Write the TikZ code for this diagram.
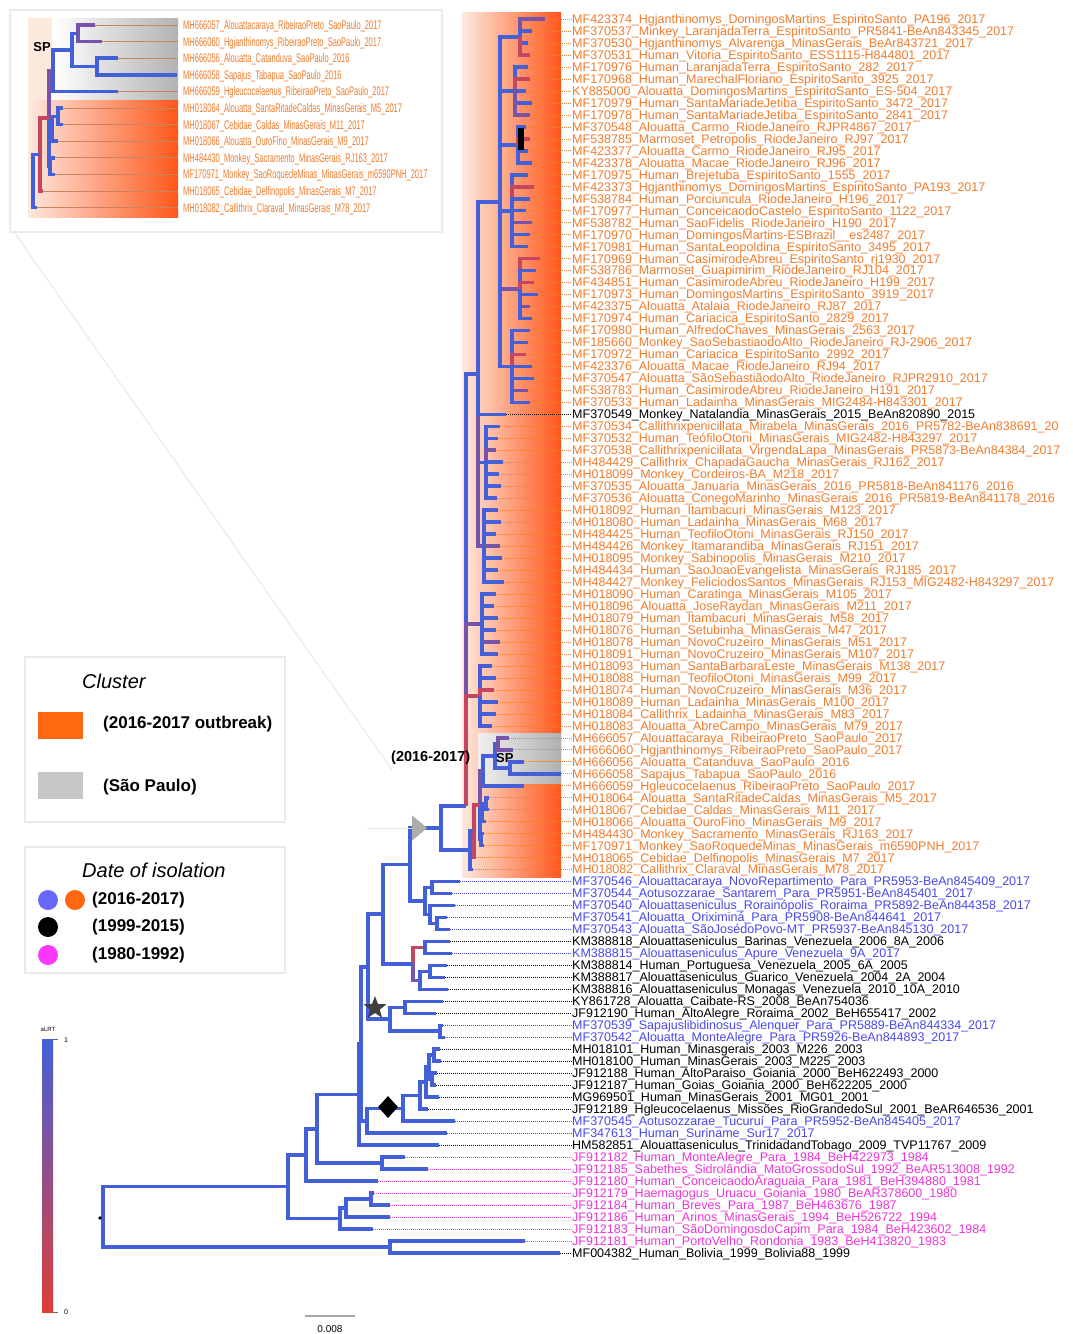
\documentclass[tikz,border=0pt]{standalone}
\usepackage{fontspec}
\setmainfont{Liberation Sans}
\usetikzlibrary{shapes.geometric}
\definecolor{tb}{RGB}{68,96,216}
\definecolor{tp}{RGB}{118,84,170}
\definecolor{tr}{RGB}{196,70,96}
\definecolor{lo}{RGB}{242,124,44}
\definecolor{lb}{RGB}{72,72,236}
\definecolor{lm}{RGB}{238,52,214}
\definecolor{mg}{RGB}{250,55,250}
\definecolor{cb}{RGB}{104,104,250}
\definecolor{oa}{RGB}{253,232,222}
\definecolor{ob}{RGB}{255,86,26}
\definecolor{lgo}{RGB}{255,104,16}
\definecolor{bro}{RGB}{205,130,95}
\definecolor{cbr}{RGB}{222,62,56}
\tikzset{
  br/.style={line width=3.6pt, draw=tb},
  lab/.style={anchor=base west, inner sep=0pt, font=\fontsize{12.5}{14}\selectfont},
  lead/.style={line width=0.6pt, dash pattern=on 1pt off 1pt},
  ilab/.style={anchor=base west, inner sep=0pt, font=\fontsize{12.5}{13}\selectfont, text=lo},
  legt/.style={anchor=west, inner sep=0pt, font=\fontsize{17}{19}\selectfont\bfseries},
  legh/.style={anchor=west, inner sep=0pt, font=\fontsize{20}{22}\selectfont\itshape},
  box/.style={draw=black!8, line width=1.2pt},
}
\begin{document}
\begin{tikzpicture}[x=1pt,y=-1pt]
\useasboundingbox (0,0) rectangle (1073,1334);
\fill[white] (0,0) rectangle (1073,1334);

% ---------- cluster shading ----------
\shade[left color=oa, right color=ob] (462,12) rectangle (561,877);
\shade[left color=gray!12, right color=gray!62] (478,733) rectangle (561,783);

% ---------- inset ----------
\draw[box] (10,10) rectangle (442,232);
\fill[oa] (28,18) rectangle (52,100);
\shade[left color=white, right color=gray!60] (52,18) rectangle (178,100);
\shade[left color=oa, right color=ob] (28,100) rectangle (178,217);
\node[font=\fontsize{13}{14}\selectfont\bfseries, inner sep=0pt] (isp) at (42,47) {SP};
\foreach \i/\tx/\t in {
1/95/MH666057\_Alouattacaraya\_RibeiraoPreto\_SaoPaulo\_2017,
2/102/MH666060\_Hgjanthinomys\_RibeiraoPreto\_SaoPaulo\_2017,
3/118/MH666056\_Alouatta\_Catanduva\_SaoPaulo\_2016,
4/177/MH666058\_Sapajus\_Tabapua\_SaoPaulo\_2016,
5/118/MH666059\_Hgleucocelaenus\_RibeiraoPreto\_SaoPaulo\_2017,
6/63/MH018064\_Alouatta\_SantaRitadeCaldas\_MinasGerais\_M5\_2017,
7/63/MH018067\_Cebidae\_Caldas\_MinasGerais\_M11\_2017,
8/58/MH018066\_Alouatta\_OuroFino\_MinasGerais\_M9\_2017,
9/55/MH484430\_Monkey\_Sacramento\_MinasGerais\_RJ163\_2017,
10/55/MF170971\_Monkey\_SaoRoquedeMinas\_MinasGerais\_m6590PNH\_2017,
11/43/MH018065\_Cebidae\_Delfinopolis\_MinasGerais\_M7\_2017,
12/37/MH018082\_Callithrix\_Claraval\_MinasGerais\_M78\_2017}{
  \pgfmathsetmacro\yy{25+(\i-1)*16.6}
  \coordinate (IT\i) at (\tx,\yy);
  \coordinate (IE\i) at (178,\yy);
  \draw[bro, line width=0.8pt] (IT\i) -- (IE\i);
  \node[ilab] (IL\i) at (183,{\yy+4.4}) {\scalebox{0.6}[1]{\t}};
}
\foreach \px/\py/\cx/\cy/\c in {
78/33.3/95/25/tp, 78/33.3/102/41.6/tp,
97/66.5/118/58.2/tb, 97/66.5/177/74.8/tb,
72/49.9/78/33.3/tb, 72/49.9/97/66.5/tb,
53/70.6/72/49.9/tb, 53/70.6/118/91.4/tb,
58/116.3/63/108/tb, 58/116.3/63/124.6/tb,
52/128.8/58/116.3/tb, 52/128.8/58/141.2/tb,
50/166.1/55/157.8/tb, 50/166.1/55/174.4/tb,
49/118/53/70.6/tp, 49/118/52/128.8/tb, 49/118/50/166.1/tb,
40/154.5/49/118/tr, 40/154.5/43/191/tr,
33/181/40/154.5/tb, 33/181/37/207.6/tb}{
  \draw[br, draw=\c] (\px,\py) |- (\cx,\cy);
}

% faint guide lines from inset
\coordinate (g1) at (14,232);
\coordinate (g2) at (392,770);
\draw[black!10, line width=0.8pt] (g1) -- (g2);

% ---------- tip labels ----------
\foreach \n/\tx/\c/\t in {
1/545/lo/MF423374\_Hgjanthinomys\_DomingosMartins\_EspiritoSanto\_PA196\_2017,
2/532/lo/MF370537\_Minkey\_LaranjadaTerra\_EspiritoSanto\_PR5841-BeAn843345\_2017,
3/528/lo/MF370530\_Hgjanthinomys\_Alvarenga\_MinasGerais\_BeAr843721\_2017,
4/530/lo/MF370531\_Human\_Vitoria\_EspiritoSanto\_ESS1115-H844801\_2017,
5/528/lo/MF170976\_Human\_LaranjadaTerra\_EspiritoSanto\_282\_2017,
6/530/lo/MF170968\_Human\_MarechalFloriano\_EspiritoSanto\_3925\_2017,
7/526/lo/KY885000\_Alouatta\_DomingosMartins\_EspiritoSanto\_ES-504\_2017,
8/532/lo/MF170979\_Human\_SantaMariadeJetiba\_EspiritoSanto\_3472\_2017,
9/530/lo/MF170978\_Human\_SantaMariadeJetiba\_EspiritoSanto\_2841\_2017,
10/526/lo/MF370548\_Alouatta\_Carmo\_RiodeJaneiro\_RJPR4867\_2017,
11/530/lo/MF538785\_Marmoset\_Petropolis\_RiodeJaneiro\_RJ97\_2017,
12/528/lo/MF423377\_Alouatta\_Carmo\_RiodeJaneiro\_RJ95\_2017,
13/532/lo/MF423378\_Alouatta\_Macae\_RiodeJaneiro\_RJ96\_2017,
14/528/lo/MF170975\_Human\_Brejetuba\_EspiritoSanto\_1555\_2017,
15/534/lo/MF423373\_Hgjanthinomys\_DomingosMartins\_EspiritoSanto\_PA193\_2017,
16/530/lo/MF538784\_Human\_Porciuncula\_RiodeJaneiro\_H196\_2017,
17/526/lo/MF170977\_Human\_ConceicaodoCastelo\_EspiritoSanto\_1122\_2017,
18/532/lo/MF538782\_Human\_SaoFidelis\_RiodeJaneiro\_H190\_2017,
19/530/lo/MF170970\_Human\_DomingosMartins-ESBrazil\_\_es2487\_2017,
20/528/lo/MF170981\_Human\_SantaLeopoldina\_EspiritoSanto\_3495\_2017,
21/540/lo/MF170969\_Human\_CasimirodeAbreu\_EspiritoSanto\_rj1930\_2017,
22/536/lo/MF538786\_Marmoset\_Guapimirim\_RiodeJaneiro\_RJ104\_2017,
23/534/lo/MF434851\_Human\_CasimirodeAbreu\_RiodeJaneiro\_H199\_2017,
24/538/lo/MF170973\_Human\_DomingosMartins\_EspiritoSanto\_3919\_2017,
25/530/lo/MF423375\_Alouatta\_Atalaia\_RiodeJaneiro\_RJ87\_2017,
26/532/lo/MF170974\_Human\_Cariacica\_EspiritoSanto\_2829\_2017,
27/530/lo/MF170980\_Human\_AlfredoChaves\_MinasGerais\_2563\_2017,
28/528/lo/MF185660\_Monkey\_SaoSebastiaodoAlto\_RiodeJaneiro\_RJ-2906\_2017,
29/526/lo/MF170972\_Human\_Cariacica\_EspiritoSanto\_2992\_2017,
30/532/lo/MF423376\_Alouatta\_Macae\_RiodeJaneiro\_RJ94\_2017,
31/534/lo/MF370547\_Alouatta\_SãoSebastiãodoAlto\_RiodeJaneiro\_RJPR2910\_2017,
32/528/lo/MF538783\_Human\_CasimirodeAbreu\_RiodeJaneiro\_H191\_2017,
33/530/lo/MF370533\_Human\_Ladainha\_MinasGerais\_MIG2484-H843301\_2017,
34/506/black/MF370549\_Monkey\_Natalandia\_MinasGerais\_2015\_BeAn820890\_2015,
35/500/lo/MF370534\_Callithrixpenicillata\_Mirabela\_MinasGerais\_2016\_PR5782-BeAn838691\_20,
36/498/lo/MF370532\_Human\_TeófiloOtoni\_MinasGerais\_MIG2482-H843297\_2017,
37/496/lo/MF370538\_Callithrixpenicillata\_VirgendaLapa\_MinasGerais\_PR5873-BeAn84384\_2017,
38/503/lo/MH484429\_Callithrix\_ChapadaGaucha\_MinasGerais\_RJ162\_2017,
39/499/lo/MH018099\_Monkey\_Cordeiros-BA\_M218\_2017,
40/501/lo/MF370535\_Alouatta\_Januaria\_MinasGerais\_2016\_PR5818-BeAn841176\_2016,
41/497/lo/MF370536\_Alouatta\_ConegoMarinho\_MinasGerais\_2016\_PR5819-BeAn841178\_2016,
42/498/lo/MH018092\_Human\_Itambacuri\_MinasGerais\_M123\_2017,
43/501/lo/MH018080\_Human\_Ladainha\_MinasGerais\_M68\_2017,
44/496/lo/MH484425\_Human\_TeofiloOtoni\_MinasGerais\_RJ150\_2017,
45/500/lo/MH484426\_Monkey\_Itamarandiba\_MinasGerais\_RJ151\_2017,
46/502/lo/MH018095\_Monkey\_Sabinopolis\_MinasGerais\_M210\_2017,
47/498/lo/MH484434\_Human\_SaoJoaoEvangelista\_MinasGerais\_RJ185\_2017,
48/504/lo/MH484427\_Monkey\_FeliciodosSantos\_MinasGerais\_RJ153\_MIG2482-H843297\_2017,
49/496/lo/MH018090\_Human\_Caratinga\_MinasGerais\_M105\_2017,
50/494/lo/MH018096\_Alouatta\_JoseRaydan\_MinasGerais\_M211\_2017,
51/498/lo/MH018079\_Human\_Itambacuri\_MinasGerais\_M58\_2017,
52/496/lo/MH018076\_Human\_Setubinha\_MinasGerais\_M47\_2017,
53/500/lo/MH018078\_Human\_NovoCruzeiro\_MinasGerais\_M51\_2017,
54/498/lo/MH018091\_Human\_NovoCruzeiro\_MinasGerais\_M107\_2017,
55/492/lo/MH018093\_Human\_SantaBarbaraLeste\_MinasGerais\_M138\_2017,
56/496/lo/MH018088\_Human\_TeofiloOtoni\_MinasGerais\_M99\_2017,
57/494/lo/MH018074\_Human\_NovoCruzeiro\_MinasGerais\_M36\_2017,
58/498/lo/MH018089\_Human\_Ladainha\_MinasGerais\_M100\_2017,
59/496/lo/MH018084\_Callithrix\_Ladainha\_MinasGerais\_M83\_2017,
60/492/lo/MH018083\_Alouatta\_AbreCampo\_MinasGerais\_M79\_2017,
61/509/lo/MH666057\_Alouattacaraya\_RibeiraoPreto\_SaoPaulo\_2017,
62/513/lo/MH666060\_Hgjanthinomys\_RibeiraoPreto\_SaoPaulo\_2017,
63/524/lo/MH666056\_Alouatta\_Catanduva\_SaoPaulo\_2016,
64/561/lo/MH666058\_Sapajus\_Tabapua\_SaoPaulo\_2016,
65/524/lo/MH666059\_Hgleucocelaenus\_RibeiraoPreto\_SaoPaulo\_2017,
66/489/lo/MH018064\_Alouatta\_SantaRitadeCaldas\_MinasGerais\_M5\_2017,
67/489/lo/MH018067\_Cebidae\_Caldas\_MinasGerais\_M11\_2017,
68/486/lo/MH018066\_Alouatta\_OuroFino\_MinasGerais\_M9\_2017,
69/484/lo/MH484430\_Monkey\_Sacramento\_MinasGerais\_RJ163\_2017,
70/484/lo/MF170971\_Monkey\_SaoRoquedeMinas\_MinasGerais\_m6590PNH\_2017,
71/476/lo/MH018065\_Cebidae\_Delfinopolis\_MinasGerais\_M7\_2017,
72/473/lo/MH018082\_Callithrix\_Claraval\_MinasGerais\_M78\_2017,
73/460/lb/MF370546\_Alouattacaraya\_NovoRepartimento\_Para\_PR5953-BeAn845409\_2017,
74/452/lb/MF370544\_Aotusozzarae\_Santarem\_Para\_PR5951-BeAn845401\_2017,
75/455/lb/MF370540\_Alouattaseniculus\_Rorainópolis\_Roraima\_PR5892-BeAn844358\_2017,
76/447/lb/MF370541\_Alouatta\_Oriximiná\_Para\_PR5908-BeAn844641\_2017,
77/450/lb/MF370543\_Alouatta\_SãoJosédoPovo-MT\_PR5937-BeAn845130\_2017,
78/450/black/KM388818\_Alouattaseniculus\_Barinas\_Venezuela\_2006\_8A\_2006,
79/452/lb/KM388815\_Alouattaseniculus\_Apure\_Venezuela\_9A\_2017,
80/447/black/KM388814\_Human\_Portuguesa\_Venezuela\_2005\_6A\_2005,
81/445/black/KM388817\_Alouattaseniculus\_Guarico\_Venezuela\_2004\_2A\_2004,
82/448/black/KM388816\_Alouattaseniculus\_Monagas\_Venezuela\_2010\_10A\_2010,
83/443/black/KY861728\_Alouatta\_Caibate-RS\_2008\_BeAn754036,
84/436/black/JF912190\_Human\_AltoAlegre\_Roraima\_2002\_BeH655417\_2002,
85/443/lb/MF370539\_Sapajuslibidinosus\_Alenquer\_Para\_PR5889-BeAn844334\_2017,
86/445/lb/MF370542\_Alouatta\_MonteAlegre\_Para\_PR5926-BeAn844893\_2017,
87/440/black/MH018101\_Human\_Minasgerais\_2003\_M226\_2003,
88/441/black/MH018100\_Human\_MinasGerais\_2003\_M225\_2003,
89/437/black/JF912188\_Human\_AltoParaiso\_Goiania\_2000\_BeH622493\_2000,
90/436/black/JF912187\_Human\_Goias\_Goiania\_2000\_BeH622205\_2000,
91/439/black/MG969501\_Human\_MinasGerais\_2001\_MG01\_2001,
92/428/black/JF912189\_Hgleucocelaenus\_Missões\_RioGrandedoSul\_2001\_BeAR646536\_2001,
93/455/lb/MF370545\_Aotusozzarae\_Tucuruí\_Para\_PR5952-BeAn845405\_2017,
94/447/lb/MF347613\_Human\_Suriname\_Sur17\_2017,
95/439/black/HM582851\_Alouattaseniculus\_TrinidadandTobago\_2009\_TVP11767\_2009,
96/405/lm/JF912182\_Human\_MonteAlegre\_Para\_1984\_BeH422973\_1984,
97/428/lm/JF912185\_Sabethes\_Sidrolândia\_MatoGrossodoSul\_1992\_BeAR513008\_1992,
98/378/lm/JF912180\_Human\_ConceicaodoAraguaia\_Para\_1981\_BeH394880\_1981,
99/374/lm/JF912179\_Haemagogus\_Uruacu\_Goiania\_1980\_BeAR378600\_1980,
100/390/lm/JF912184\_Human\_Breves\_Para\_1987\_BeH463676\_1987,
101/390/lm/JF912186\_Human\_Arinos\_MinasGerais\_1994\_BeH526722\_1994,
102/373/lm/JF912183\_Human\_SãoDomingosdoCapim\_Para\_1984\_BeH423602\_1984,
103/525/lm/JF912181\_Human\_PortoVelho\_Rondonia\_1983\_BeH413820\_1983,
104/560/black/MF004382\_Human\_Bolivia\_1999\_Bolivia88\_1999}{
  \pgfmathsetmacro\yy{19+(\n-1)*11.98}
  \coordinate (T\n) at (\tx,\yy);
  \node[lab,text=\c] (L\n) at (572,{\yy+4.4}) {\t};
  \draw[lead,draw=\c] (T\n) -- (T\n -| L\n.west);
}

% ---------- tree: internal edges ----------
\foreach \px/\py/\cx/\cy/\c in {
500/201.7/520/37/tb, 500/201.7/515/91/tb, 500/201.7/518/145/tb,
500/201.7/512/211/tb, 500/201.7/520/288.8/tp, 500/201.7/512/366.5/tb,
478/373.9/500/201.7/tb, 478/373.9/486/462.3/tb, 478/373.9/484/546.1/tp,
466/806/478/373.9/tb, 466/806/482/624/tp, 466/806/480/695.9/tr,
495/755.7/498/743.8/tb, 495/755.7/510/767.7/tb,
483/770.7/495/755.7/tb,
480/805/483/770.7/tp, 480/805/482/812.6/tb, 480/805/481/839.5/tb,
482/812.6/486/803.6/tb,
474/831/480/805/tr,
470/850/474/831/tb,
441/828/466/806/tb, 441/828/470/850/tb,
425/901/432/887.5/tb, 425/901/430/914.4/tb,
430/914.4/437/923.4/tb,
410/864.5/441/828/tb, 410/864.5/425/901/tb,
420/980.3/430/971.3/tb,
413/963.9/425/947.4/tr, 413/963.9/420/980.3/tp,
383/914.2/410/864.5/tb, 383/914.2/413/963.9/tb,
390/1019.2/405/1007.3/tb, 390/1019.2/440/1031.2/tb,
368/966.7/383/914.2/tb, 368/966.7/390/1019.2/tb,
429/1067.2/434/1055.2/tb, 429/1067.2/432/1079.1/tb,
426/1082.2/429/1067.2/tb,
420/1095.6/426/1082.2/tb,
403/1108.3/420/1095.6/tb,
367/1120.7/403/1108.3/tb,
361/1043.7/368/966.7/tb, 361/1043.7/367/1120.7/tb,
359/1094.4/361/1043.7/tb,
317/1128.7/359/1094.4/tb, 317/1128.7/382/1163/tb,
306/1154.8/317/1128.7/tb,
346/1207.9/371/1198.9/tb,
340/1218.4/346/1207.9/tb,
288/1186.6/306/1154.8/tb, 288/1186.6/340/1218.4/tb,
103/1216.7/288/1186.6/tb, 103/1216.7/390/1246.8/tb}{
  \draw[br, draw=\c] (\px,\py) |- (\cx,\cy);
}
% ---------- tree: terminal edges ----------
\foreach \px/\py/\n/\c in {
520/37/1/tp, 520/37/2/tb, 520/37/3/tb, 520/37/4/tr,
515/91/5/tb, 515/91/6/tr, 515/91/7/tb, 515/91/8/tb, 515/91/9/tp,
518/145/10/tb, 518/145/11/tr, 518/145/12/tb, 518/145/13/tb,
512/211/14/tb, 512/211/15/tr, 512/211/16/tb, 512/211/17/tb, 512/211/18/tp, 512/211/19/tb, 512/211/20/tb,
520/288.8/21/tr, 520/288.8/22/tb, 520/288.8/23/tr, 520/288.8/24/tb, 520/288.8/25/tp, 520/288.8/26/tb,
512/366.5/27/tb, 512/366.5/28/tb, 512/366.5/29/tr, 512/366.5/30/tb, 512/366.5/31/tb, 512/366.5/32/tp, 512/366.5/33/tb,
478/373.9/34/tb,
486/462.3/35/tb, 486/462.3/36/tb, 486/462.3/37/tp, 486/462.3/38/tb, 486/462.3/39/tb, 486/462.3/40/tb, 486/462.3/41/tb,
484/546.1/42/tb, 484/546.1/43/tb, 484/546.1/44/tb, 484/546.1/45/tp, 484/546.1/46/tb, 484/546.1/47/tb, 484/546.1/48/tb,
482/624/49/tb, 482/624/50/tb, 482/624/51/tb, 482/624/52/tb, 482/624/53/tp, 482/624/54/tb,
480/695.9/55/tb, 480/695.9/56/tb, 480/695.9/57/tr, 480/695.9/58/tb, 480/695.9/59/tb, 480/695.9/60/tb,
498/743.8/61/tp, 498/743.8/62/tp, 510/767.7/63/tb, 510/767.7/64/tb, 483/770.7/65/tb,
486/803.6/66/tb, 486/803.6/67/tb, 482/812.6/68/tb, 481/839.5/69/tb, 481/839.5/70/tb,
474/831/71/tr, 470/850/72/tb,
432/887.5/73/tb, 432/887.5/74/tb, 430/914.4/75/tb, 437/923.4/76/tb, 437/923.4/77/tb,
425/947.4/78/tb, 425/947.4/79/tb, 430/971.3/80/tb, 430/971.3/81/tb, 420/980.3/82/tb,
405/1007.3/83/tb, 405/1007.3/84/tb, 440/1031.2/85/tb, 440/1031.2/86/tb,
434/1055.2/87/tb, 434/1055.2/88/tb, 432/1079.1/89/tb, 432/1079.1/90/tb,
426/1082.2/91/tb, 420/1095.6/92/tb, 403/1108.3/93/tb, 367/1120.7/94/tb, 359/1094.4/95/tb,
382/1163/96/tb, 382/1163/97/tb, 306/1154.8/98/tb,
371/1198.9/99/tb, 371/1198.9/100/tb, 346/1207.9/101/tb, 340/1218.4/102/tb,
390/1246.8/103/tb, 390/1246.8/104/tb}{
  \draw[br, draw=\c] (\px,\py) |- (T\n);
}

% markers
\fill[black] (100,1218) circle (1.8pt);
\node[fill=black, inner sep=0pt, minimum width=6pt, minimum height=22pt] (blk) at (521,139) {};
\node[star, star points=5, star point ratio=2.4, fill=black!75, inner sep=0pt, minimum size=24pt] (strm) at (375,1008) {};
\node[diamond, fill=black, inner sep=0pt, minimum width=20pt, minimum height=22pt] (dia) at (388,1107) {};
\node[isosceles triangle, isosceles triangle apex angle=80, fill=gray!65, inner sep=0pt, minimum height=15pt, minimum width=22pt] (tri) at (418,828) {};
\coordinate (g3) at (367,828);
\draw[black!10, line width=0.8pt] (g3) -- (tri.west);
\node[anchor=west, inner sep=0pt, font=\fontsize{14.5}{16}\selectfont\bfseries] (lab1617) at (391,758) {(2016-2017)};
\node[anchor=west, inner sep=0pt, font=\fontsize{13}{14}\selectfont\bfseries] (msp) at (496,758) {SP};

% ---------- legends ----------
\draw[box] (25,657) rectangle (285,822);
\node[legh] (lcl) at (82,681) {Cluster};
\node[fill=lgo, minimum width=45pt, minimum height=27pt, inner sep=0pt] (lorg) at (60.5,725) {};
\node[legt] (lorgt) at (103,724) {(2016-2017 outbreak)};
\node[fill=gray!45, minimum width=45pt, minimum height=27pt, inner sep=0pt] (lgry) at (60.5,785) {};
\node[legt] (lgryt) at (103,787) {(São Paulo)};

\draw[box] (25,847) rectangle (285,973);
\node[legh] (ldt) at (82,870) {Date of isolation};
\node[circle, fill=cb, minimum size=20pt, inner sep=0pt] (c1) at (48,900) {};
\node[circle, fill=lgo, minimum size=20pt, inner sep=0pt] (c2) at (75,900) {};
\node[legt] (c12t) at (92,900) {(2016-2017)};
\node[circle, fill=black, minimum size=20pt, inner sep=0pt] (c3) at (48,927) {};
\node[legt] (c3t) at (92,927) {(1999-2015)};
\node[circle, fill=mg, minimum size=20pt, inner sep=0pt] (c4) at (48,955) {};
\node[legt] (c4t) at (92,955) {(1980-1992)};

% ---------- colour bar ----------
\shade[top color=tb, bottom color=cbr] (42,1039) rectangle (53,1312);
\draw[black!60, line width=0.6pt] (53,1039) -- (58,1039) (53,1312) -- (58,1312);
\node[font=\fontsize{6}{7}\selectfont, inner sep=0pt] (alrt) at (48,1029) {aLRT};
\node[font=\fontsize{7}{8}\selectfont, inner sep=0pt] (c1l) at (66,1040) {1};
\node[font=\fontsize{7}{8}\selectfont, inner sep=0pt] (c0l) at (66,1312) {0};

% ---------- scale bar ----------
\coordinate (s1) at (305,1316);
\coordinate (s2) at (355,1316);
\draw[gray!70, line width=1.3pt] (s1) -- (s2);
\node[font=\fontsize{10}{11}\selectfont, inner sep=0pt] (sbl) at (330,1329) {0.008};
\end{tikzpicture}
\end{document}
